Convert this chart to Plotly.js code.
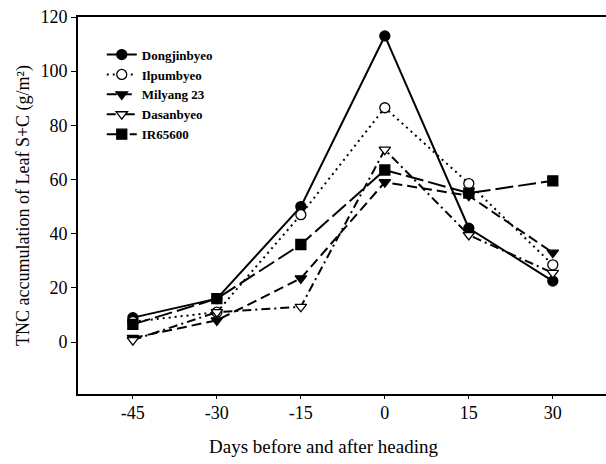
<!DOCTYPE html>
<html>
<head>
<meta charset="utf-8">
<script src="https://cdn.plot.ly/plotly-3.0.1.min.js"></script>
<style>html,body{margin:0;padding:0;background:#fff;}#chart{width:606px;height:464px;}</style>
</head>
<body>
<div id="chart"></div>
<script>
const days = [-45, -30, -15, 0, 15, 30];
const tickLabels = ["-45", "-30", "-15", "0", "15", "30"];
const dongjinbyeo = [9, 16, 50, 113, 42, 22.5];
const ilpumbyeo = [7.5, 11, 47, 86.5, 58.5, 28.5];
const milyang23 = [1.5, 8, 23.5, 59, 54, 33];
const dasanbyeo = [0.7, 11, 13, 71, 39.5, 25.5];
const ir65600 = [6.5, 16, 36, 63.5, 55, 59.5];

const seriesNames = ["Dongjinbyeo", "Ilpumbyeo", "Milyang 23", "Dasanbyeo", "IR65600"];
const seriesData = [dongjinbyeo, ilpumbyeo, milyang23, dasanbyeo, ir65600];
const styles = [
  {dash: "solid", symbol: "circle", fill: "#000"},
  {dash: "2px,4px", symbol: "circle", fill: "#fff"},
  {dash: "10px,5px", symbol: "triangle-down", fill: "#000"},
  {dash: "9px,4px,2px,4px", symbol: "triangle-down", fill: "#fff"},
  {dash: "18px,5px", symbol: "square", fill: "#000"}
];

const traces = seriesNames.map((n, i) => ({
  x: days, y: seriesData[i], name: n, type: "scatter", mode: "lines+markers",
  line: {color: "#000", width: 2, dash: styles[i].dash},
  marker: {symbol: styles[i].symbol, size: 10, color: styles[i].fill,
           line: {color: "#000", width: 1.3}}
}));

const font = "Liberation Serif, Times New Roman, serif";
const layout = {
  width: 606, height: 464,
  margin: {l: 78, r: 0, t: 17, b: 70},
  paper_bgcolor: "#fff", plot_bgcolor: "#fff",
  showlegend: true,
  legend: {x: 0.045, y: 0.94, xanchor: "left", yanchor: "top", bgcolor: "rgba(0,0,0,0)",
           font: {family: font, size: 13, color: "#000", weight: "bold"}, tracegroupgap: 0, itemwidth: 30},
  xaxis: {range: [-54.8, 39.5], tickmode: "array", tickvals: days, ticktext: tickLabels,
          showline: true, mirror: true, linecolor: "#000", linewidth: 2, ticks: "outside", ticklen: 3,
          tickcolor: "#000", showgrid: false, zeroline: false, ticklabelstandoff: -2,
          tickfont: {family: font, size: 18, color: "#000"}},
  yaxis: {range: [-19.2, 120], tickvals: [0, 20, 40, 60, 80, 100, 120],
          showline: true, linecolor: "#000", linewidth: 2, ticks: "outside", ticklen: 5,
          tickcolor: "#000", showgrid: false, zeroline: false,
          tickfont: {family: font, size: 18, color: "#000"},
          title: {text: "TNC accumulation of Leaf S+C (g/m²)", font: {family: font, size: 18, color: "#000"}, standoff: 6}},
  annotations: [{text: "Days before and after heading", xref: "paper", yref: "paper",
                 x: (323 - 78) / 528, y: -0.14, xanchor: "center", yanchor: "middle", showarrow: false,
                 font: {family: font, size: 19, color: "#000"}}]
};
Plotly.newPlot("chart", traces, layout, {displayModeBar: false, staticPlot: true});
</script>
</body>
</html>
